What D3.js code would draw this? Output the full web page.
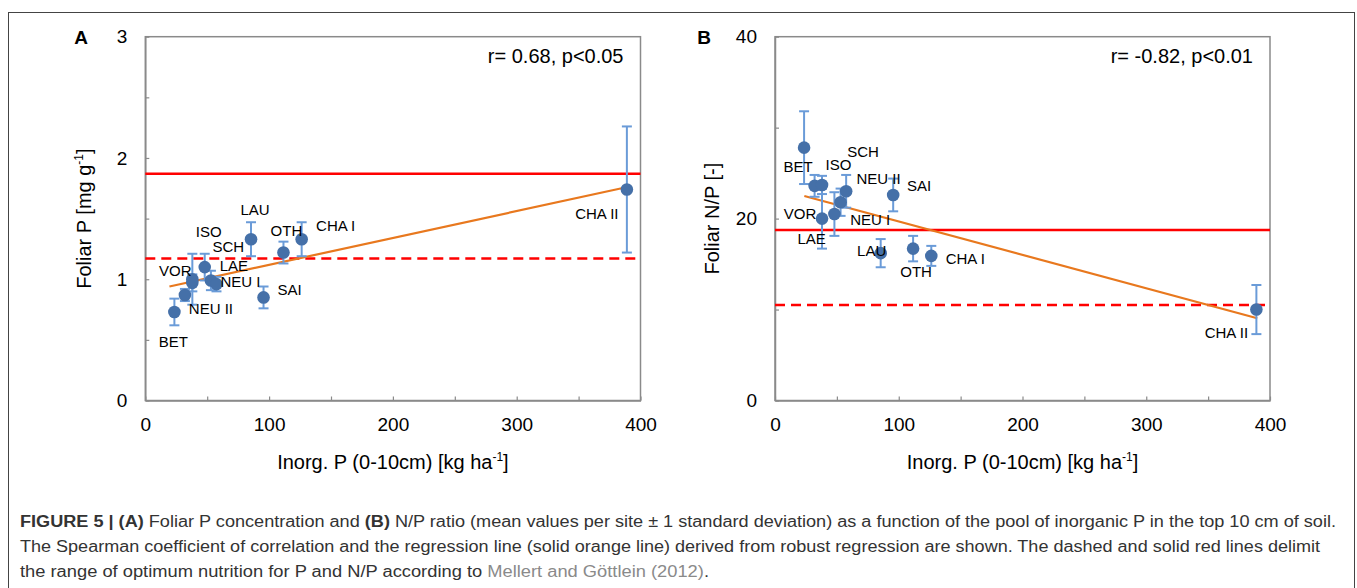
<!DOCTYPE html>
<html><head><meta charset="utf-8">
<script src="https://cdn.jsdelivr.net/npm/d3@7"></script>
<style>
body{margin:0;background:#fff}
svg{display:block}
text{font-family:"Liberation Sans",Arial,Helvetica,sans-serif;fill:#000}
</style>
</head><body><svg id="c" width="1357" height="588"></svg>
<script>
// ---------------- data ----------------
const sites     = ["BET","NEU II","VOR","SCH","ISO","LAE","NEU I","LAU","SAI","OTH","CHA I","CHA II"];
const inorgP    = [23.5, 32, 38, 38, 48, 53, 57.5, 85.4, 95.5, 111.6, 126.3, 389];
const foliarP   = [0.73, 0.87, 0.97, 1.00, 1.10, 0.99, 0.96, 1.33, 0.85, 1.22, 1.33, 1.74];
const foliarPsd = [0.11, 0.05, 0.07, 0.21, 0.11, 0.08, 0.06, 0.14, 0.09, 0.09, 0.14, 0.52];
const ratioNP   = [27.8, 23.6, 20.0, 23.7, 20.5, 21.8, 23.0, 16.2, 22.6, 16.7, 15.9, 10.0];
const ratioNPsd = [4.0, 1.2, 3.3, 1.0, 2.4, 1.5, 1.8, 1.55, 1.8, 1.4, 1.1, 2.7];

const regA_x = [19.5, 384.8], regA_y = [0.94, 1.75];
const regB_x = [23.7, 389.7], regB_y = [22.49, 9.04];
const optA = {solid: 1.87, dashed: 1.17};
const optB = {solid: 18.75, dashed: 10.5};
const statA = "r= 0.68, p<0.05";
const statB = "r= -0.82, p<0.01";

const xTicks = [0,50,100,150,200,250,300,350,400];
const xTickLabels = [0,100,200,300,400];
const yTicksA = [0,0.5,1,1.5,2,2.5,3];
const yTickLabelsA = [0,1,2,3];
const yTicksB = [0,10,20,30,40];
const yTickLabelsB = [0,20,40];

// label placement (pixel offsets from each point) – layout only
const labelOffA = [[-1,30],[26,14],[-17,-12],[36,-32],[4,-35],[23,-15],[24,-2],[4,-29],[26,-8],[3,-22],[34,-13],[-30,24]];
const labelOffB = [[-6,19],[64,-7],[-22,-5],[41,-33],[4,-49],[-29,37],[24,28],[-9,-2],[26,-9],[3,23],[34,3],[-30,23]];

// ---------------- drawing ----------------
const svg = d3.select("#c");
const C = {axis:"#8a8a8a", pt:"#4570a8", err:"#6a9bd8", reg:"#e8781e", red:"#ff0000"};

// outer frame
svg.append("rect").attr("x",8.5).attr("y",12.5).attr("width",1346).attr("height",620)
  .attr("fill","none").attr("stroke","#444").attr("stroke-width",1);

function panel(o){
  const g = svg.append("g");
  const x = d3.scaleLinear().domain([0,400]).range([o.left,o.right]);
  const y = d3.scaleLinear().domain(o.ydom).range([o.bottom,o.top]);

  // box
  g.append("rect").attr("x",o.left).attr("y",o.top).attr("width",o.right-o.left).attr("height",o.bottom-o.top)
    .attr("fill","none").attr("stroke",C.axis).attr("stroke-width",1.5);

  // axes: inward ticks
  const ax = g.append("g").attr("transform",`translate(0,${o.bottom})`)
    .call(d3.axisBottom(x).tickValues(xTicks).tickSizeInner(-4).tickSizeOuter(0).tickPadding(17)
      .tickFormat(d => xTickLabels.includes(d) ? d : ""));
  const ay = g.append("g").attr("transform",`translate(${o.left},0)`)
    .call(d3.axisLeft(y).tickValues(o.yticks).tickSizeInner(-4).tickSizeOuter(0).tickPadding(18)
      .tickFormat(d => o.ylabels.includes(d) ? d : ""));
  [ax,ay].forEach(a=>{
    a.select(".domain").attr("stroke",C.axis).attr("stroke-width",1.5);
    a.selectAll(".tick line").attr("stroke",C.axis).attr("stroke-width",1.2);
    a.selectAll("text").attr("font-size",19).attr("font-family",null).attr("fill","#000");
  });

  // optimum lines
  g.append("line").attr("x1",o.left).attr("x2",o.right).attr("y1",y(o.opt.solid)).attr("y2",y(o.opt.solid))
    .attr("stroke",C.red).attr("stroke-width",2.5);
  g.append("line").attr("x1",o.left).attr("x2",o.right).attr("y1",y(o.opt.dashed)).attr("y2",y(o.opt.dashed))
    .attr("stroke",C.red).attr("stroke-width",2.5).attr("stroke-dasharray","10,6");

  // regression
  g.append("line").attr("x1",x(o.regx[0])).attr("x2",x(o.regx[1])).attr("y1",y(o.regy[0])).attr("y2",y(o.regy[1]))
    .attr("stroke",C.reg).attr("stroke-width",2.2);

  const data = sites.map((s,i)=>({s, x:inorgP[i], v:o.vals[i], sd:o.sds[i], off:o.off[i]}));

  // error bars
  const eb = g.append("g").attr("stroke",C.err).attr("stroke-width",2);
  data.forEach(d=>{
    const cx = x(d.x), y1 = y(d.v+d.sd), y2 = y(d.v-d.sd);
    eb.append("line").attr("x1",cx).attr("x2",cx).attr("y1",y1).attr("y2",y2);
    eb.append("line").attr("x1",cx-5).attr("x2",cx+5).attr("y1",y1).attr("y2",y1);
    eb.append("line").attr("x1",cx-5).attr("x2",cx+5).attr("y1",y2).attr("y2",y2);
  });
  // points
  g.selectAll("circle.p").data(data).join("circle").attr("class","p")
    .attr("cx",d=>x(d.x)).attr("cy",d=>y(d.v)).attr("r",6.3).attr("fill",C.pt);
  // labels
  g.selectAll("text.lab").data(data).join("text").attr("class","lab")
    .attr("x",d=>x(d.x)+d.off[0]).attr("y",d=>y(d.v)+d.off[1]).attr("dy","0.35em")
    .attr("text-anchor","middle").attr("font-size",15).text(d=>d.s);

  // stat text
  g.append("text").attr("x",o.right-17).attr("y",o.top+26).attr("text-anchor","end")
    .attr("font-size",20).text(o.stat);
  // panel letter
  g.append("text").attr("x",o.letterX).attr("y",o.top+7).attr("text-anchor","middle")
    .attr("font-size",19).attr("font-weight","bold").text(o.letter);

  // x title
  const xt = g.append("text").attr("x",(o.left+o.right)/2).attr("y",469).attr("text-anchor","middle").attr("font-size",20);
  xt.append("tspan").text("Inorg. P (0-10cm) [kg ha");
  xt.append("tspan").attr("font-size",12).attr("dy",-8).text("-1");
  xt.append("tspan").attr("dy",8).text("]");

  // y title
  const yt = g.append("text").attr("transform",`translate(${o.ytitleX},${(o.top+o.bottom)/2}) rotate(-90)`)
    .attr("text-anchor","middle").attr("font-size",20);
  o.ytitle(yt);
}

panel({left:145.3,right:640.5,top:36.7,bottom:400.5,ydom:[0,3],yticks:yTicksA,ylabels:yTickLabelsA,
  opt:optA,regx:regA_x,regy:regA_y,vals:foliarP,sds:foliarPsd,off:labelOffA,stat:statA,letter:"A",letterX:81,ytitleX:91,
  ytitle:t=>{t.append("tspan").text("Foliar P [mg g");t.append("tspan").attr("font-size",12).attr("dy",-8).text("-1");t.append("tspan").attr("dy",8).text("]");}});
panel({left:775,right:1270,top:36.7,bottom:400.5,ydom:[0,40],yticks:yTicksB,ylabels:yTickLabelsB,
  opt:optB,regx:regB_x,regy:regB_y,vals:ratioNP,sds:ratioNPsd,off:labelOffB,stat:statB,letter:"B",letterX:704,ytitleX:719,
  ytitle:t=>{t.text("Foliar N/P [-]");}});

// caption
const cap = svg.append("g").attr("font-size",16).attr("fill","#333");
const l1 = cap.append("text").attr("x",20).attr("y",527).attr("textLength",1316).attr("lengthAdjust","spacingAndGlyphs").attr("font-size",16).style("fill","#333");
l1.append("tspan").attr("font-weight","bold").text("FIGURE 5 | (A)");
l1.append("tspan").text(" Foliar P concentration and ");
l1.append("tspan").attr("font-weight","bold").text("(B)");
l1.append("tspan").text(" N/P ratio (mean values per site \u00b1 1 standard deviation) as a function of the pool of inorganic P in the top 10 cm of soil.");
cap.append("text").attr("x",20).attr("y",552).attr("textLength",1300).attr("lengthAdjust","spacingAndGlyphs").attr("font-size",16).style("fill","#333")
  .text("The Spearman coefficient of correlation and the regression line (solid orange line) derived from robust regression are shown. The dashed and solid red lines delimit");
const l3 = cap.append("text").attr("x",20).attr("y",577).attr("textLength",689).attr("lengthAdjust","spacingAndGlyphs").attr("font-size",16).style("fill","#333");
l3.append("tspan").text("the range of optimum nutrition for P and N/P according to ");
l3.append("tspan").style("fill","#8a8a8a").text("Mellert and G\u00f6ttlein (2012)");
l3.append("tspan").text(".");
</script>
</body></html>
